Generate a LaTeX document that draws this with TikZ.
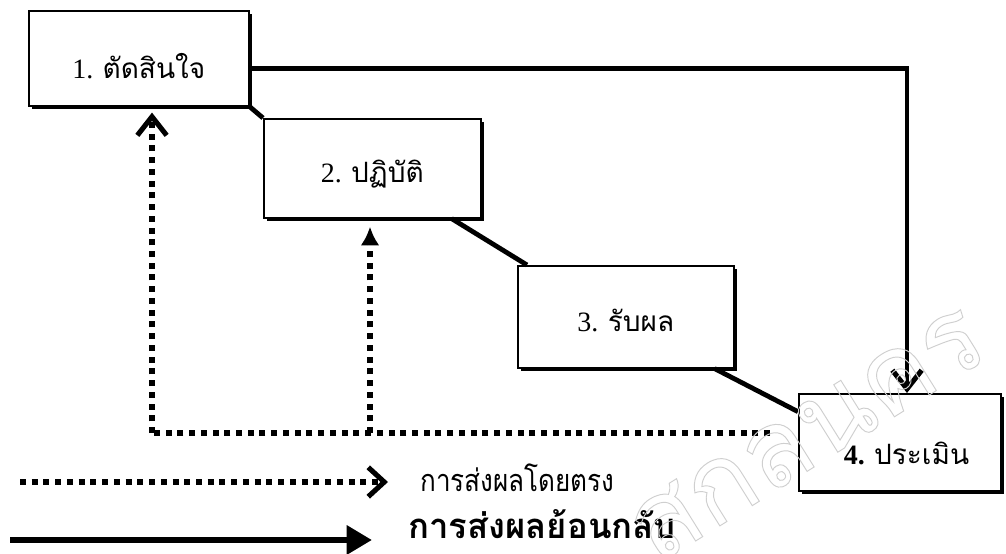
\documentclass[tikz,border=0pt]{standalone}
\usepackage{fontspec}
\setmainfont{Liberation Serif}
\newfontfamily\thaifont[Script=Thai]{Loma}
\newfontfamily\thaicond[Script=Thai,FakeStretch=0.85]{Loma}
\usetikzlibrary{arrows.meta,calc,shadows}
\newcommand{\outlinetext}[1]{\special{pdf:literal direct 1 Tr 0.7 w}#1\special{pdf:literal direct 0 Tr}}
\begin{document}
\begin{tikzpicture}[x=0.75pt,y=-0.75pt,
  stepbox/.style={draw, line width=1.2pt, fill=white, inner sep=0pt, anchor=north west,
    drop shadow={shadow xshift=2.6pt, shadow yshift=-2.6pt, opacity=1, fill=black}},
  boxtext/.style={font=\fontsize{21}{24}\selectfont, inner sep=0pt},
  solidline/.style={line width=3.6pt, line cap=butt},
  dotline/.style={line width=4.5pt, line cap=butt, dash pattern=on 4.5pt off 4.3pt},
  barb/.style={-{Straight Barb[length=14pt,width=22pt,line width=3.8pt]}},
  legtext/.style={anchor=west, inner sep=0pt}
]
\useasboundingbox (0,0) rectangle (1006,553);
\fill[white] (0,0) rectangle (1006,553);

% boxes
\node[stepbox, minimum width=165pt, minimum height=71.25pt,
  label={[boxtext, yshift=-6pt]center:1. {\thaifont ตัดสินใจ}}] (b1) at (28,10) {};
\node[stepbox, minimum width=162.75pt, minimum height=74.25pt,
  label={[boxtext, yshift=-4pt]center:2. {\thaifont ปฏิบัติ}}] (b2) at (263,118) {};
\node[stepbox, minimum width=162pt, minimum height=76.5pt,
  label={[boxtext, yshift=-3pt]center:3. {\thaifont รับผล}}] (b3) at (517,265) {};
\node[stepbox, minimum width=151.5pt, minimum height=72.75pt,
  label={[boxtext, yshift=-8pt, xshift=5pt]center:\textbf{4.} {\thaifont ประเมิน}}] (b4) at (798,393) {};

% solid connectors between boxes
\draw[solidline] (b1.south east) -- (b2.north west);
\draw[solidline] ([xshift=-22.5pt]b2.south east) -- ([xshift=7.5pt]b3.north west);
\draw[solidline] ([xshift=-15pt]b3.south east) -- ([yshift=-14pt]b4.north west);

% feedback arrow from box 1 to box 4
\coordinate (fb) at ($(b4.north west)+(109,0)$);
\draw[solidline, barb] ([yshift=-44pt]b1.north east) -| (fb);

% dotted lines
\coordinate (dr) at (770,433);
\coordinate (dl) at (152,433);
\coordinate (dm) at (370,433);
\draw[dotline] (dr) -- (dl);
\draw[dotline, barb] (dl) -- ($(dl |- b1.south)+(0,6)$);
\draw[dotline, -{Latex[length=14pt,width=14pt]}] (dm) -- ($(dm |- b2.south)+(0,8)$);

% legend
\coordinate (l1s) at (20,482);
\coordinate (l1e) at (388,482);
\draw[dotline, -{Straight Barb[length=12pt,width=22pt,line width=3.8pt]}] (l1s) -- (l1e);
\node[legtext, font=\thaicond\fontsize{23}{26}\selectfont] (t1) at (420,478) {การส่งผลโดยตรง};
\coordinate (l2s) at (10,540);
\coordinate (l2e) at (372,540);
\draw[line width=5.2pt, -{Triangle[length=19pt,width=21pt]}] (l2s) -- (l2e);
\node[legtext, font=\thaifont\bfseries\fontsize{26}{28}\selectfont] (t2) at (408,524) {การส่งผลย้อนกลับ};

% faint watermark
\node[text=gray!38, rotate=32, inner sep=0pt, font=\thaifont\fontsize{80}{84}\selectfont] (wm) at (808,434) {\outlinetext{สกลนคร}};
\end{tikzpicture}
\end{document}
